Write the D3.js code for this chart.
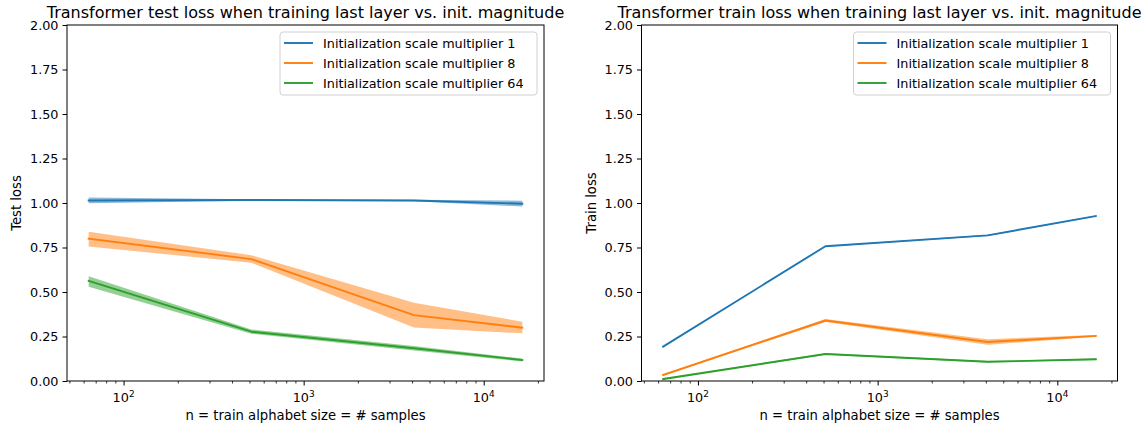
<!DOCTYPE html>
<html>
<head>
<meta charset="utf-8">
<script src="https://cdn.jsdelivr.net/npm/d3@7"></script>
<style>
body { margin: 0; background: #fff; }
svg { display: block; font-family: "DejaVu Sans", sans-serif; }
</style>
</head>
<body>
<svg id="chart" width="1144" height="425"></svg>
<script>
// ---------- data ----------
const xValues = [64, 512, 4096, 16384];
const seriesNames = [
  "Initialization scale multiplier 1",
  "Initialization scale multiplier 8",
  "Initialization scale multiplier 64"
];
const seriesColors = ["#1f77b4", "#ff7f0e", "#2ca02c"];
const yTicks = [0, 0.25, 0.5, 0.75, 1.0, 1.25, 1.5, 1.75, 2.0];

// Test loss (mean, lower, upper)
const testMean1 = [1.014, 1.017, 1.014, 0.996];
const testLow1  = [0.999, 1.013, 1.010, 0.980];
const testHigh1 = [1.031, 1.021, 1.018, 1.013];
const testMean8 = [0.800, 0.685, 0.370, 0.300];
const testLow8  = [0.755, 0.665, 0.300, 0.268];
const testHigh8 = [0.839, 0.706, 0.440, 0.333];
const testMean64 = [0.562, 0.277, 0.184, 0.118];
const testLow64  = [0.530, 0.265, 0.172, 0.110];
const testHigh64 = [0.588, 0.290, 0.196, 0.126];

// Train loss (mean, lower, upper)
const trainMean1 = [0.193, 0.757, 0.818, 0.927];
const trainLow1  = [0.190, 0.754, 0.815, 0.924];
const trainHigh1 = [0.196, 0.760, 0.821, 0.930];
const trainMean8 = [0.034, 0.340, 0.219, 0.253];
const trainLow8  = [0.030, 0.331, 0.203, 0.248];
const trainHigh8 = [0.038, 0.348, 0.235, 0.258];
const trainMean64 = [0.011, 0.152, 0.108, 0.122];
const trainLow64  = [0.008, 0.148, 0.104, 0.118];
const trainHigh64 = [0.014, 0.156, 0.112, 0.126];

// ---------- drawing ----------
const svg = d3.select("#chart");
const FS = 12.8;      // tick + legend font
const LFS = 13.2;     // axis label font
const TFS = 16;       // title font

function drawPanel(opts) {
  const { left, right, top, bottom, title, ylabel, means, lows, highs } = opts;
  const g = svg.append("g");

  // log x-domain with matplotlib-like 5% margins
  const lmin = Math.log10(d3.min(xValues)), lmax = Math.log10(d3.max(xValues));
  const pad = (lmax - lmin) * 0.05;
  const x = d3.scaleLog().domain([10 ** (lmin - pad), 10 ** (lmax + pad)]).range([left, right]);
  const y = d3.scaleLinear().domain([0, 2]).range([bottom, top]);

  // bands
  means.forEach((m, i) => {
    const area = d3.area()
      .x((d, j) => x(xValues[j]))
      .y0((d, j) => y(lows[i][j]))
      .y1((d, j) => y(highs[i][j]));
    g.append("path").attr("d", area(m))
      .attr("fill", seriesColors[i]).attr("fill-opacity", 0.5).attr("stroke", "none");
  });
  // lines
  means.forEach((m, i) => {
    const line = d3.line().x((d, j) => x(xValues[j])).y(d => y(d));
    g.append("path").attr("d", line(m))
      .attr("fill", "none").attr("stroke", seriesColors[i])
      .attr("stroke-width", 1.9).attr("stroke-linejoin", "round").attr("stroke-linecap", "square");
  });

  // frame
  g.append("rect").attr("x", left).attr("y", top)
    .attr("width", right - left).attr("height", bottom - top)
    .attr("fill", "none").attr("stroke", "#000").attr("stroke-width", 1);

  // y axis
  const yAxis = d3.axisLeft(y).tickValues(yTicks).tickFormat(d3.format(".2f"))
    .tickSize(4.5).tickPadding(4);
  const ya = g.append("g").attr("transform", `translate(${left},0)`).call(yAxis);
  ya.select(".domain").remove();
  ya.selectAll("text").attr("font-size", FS).attr("fill", "#000").attr("font-family", "DejaVu Sans");
  ya.selectAll("line").attr("stroke", "#000");

  // x axis major / minor ticks
  const [d0, d1] = x.domain();
  const majors = [];
  const minors = [];
  for (let e = Math.floor(Math.log10(d0)); e <= Math.ceil(Math.log10(d1)); e++) {
    for (let k = 1; k <= 9; k++) {
      const v = k * 10 ** e;
      if (v >= d0 && v <= d1) (k === 1 ? majors : minors).push(v);
    }
  }
  const xAxis = d3.axisBottom(x).tickValues(majors).tickFormat("").tickSize(4.5);
  const xa = g.append("g").attr("transform", `translate(0,${bottom})`).call(xAxis);
  xa.select(".domain").remove();
  xa.selectAll("line").attr("stroke", "#000");
  const xm = d3.axisBottom(x).tickValues(minors).tickFormat("").tickSize(2.5);
  const xma = g.append("g").attr("transform", `translate(0,${bottom})`).call(xm);
  xma.select(".domain").remove();
  xma.selectAll("line").attr("stroke", "#000").attr("stroke-width", 0.8);

  // x tick labels with superscripts
  majors.forEach(v => {
    const t = g.append("text").attr("x", x(v)).attr("y", bottom + 21)
      .attr("text-anchor", "middle").attr("font-size", FS);
    t.append("tspan").text("10");
    t.append("tspan").attr("dy", -5).attr("font-size", FS * 0.7).text(Math.round(Math.log10(v)));
  });

  // labels
  g.append("text").attr("x", (left + right) / 2).attr("y", 420)
    .attr("text-anchor", "middle").attr("font-size", LFS).text("n = train alphabet size = # samples");
  g.append("text").attr("transform", `translate(${left - 46},${(top + bottom) / 2}) rotate(-90)`)
    .attr("text-anchor", "middle").attr("font-size", LFS).text(ylabel);
  g.append("text").attr("x", (left + right) / 2).attr("y", top - 7)
    .attr("text-anchor", "middle").attr("font-size", TFS).text(title);

  // legend
  const lw = 257, lh = 63;
  const lx = right - 7 - lw, ly = top + 7;
  const lg = g.append("g").attr("transform", `translate(${lx},${ly})`);
  lg.append("rect").attr("width", lw).attr("height", lh).attr("rx", 3)
    .attr("fill", "#fff").attr("fill-opacity", 0.8).attr("stroke", "#d0d0d0").attr("stroke-width", 1);
  seriesNames.forEach((name, i) => {
    const yy = 11 + i * 20;
    lg.append("line").attr("x1", 4).attr("x2", 33).attr("y1", yy).attr("y2", yy)
      .attr("stroke", seriesColors[i]).attr("stroke-width", 1.9);
    lg.append("text").attr("x", 43).attr("y", yy).attr("dy", "0.36em")
      .attr("font-size", FS).text(name);
  });
}

drawPanel({
  left: 67, right: 544, top: 25, bottom: 381,
  title: "Transformer test loss when training last layer vs. init. magnitude",
  ylabel: "Test loss",
  means: [testMean1, testMean8, testMean64],
  lows: [testLow1, testLow8, testLow64],
  highs: [testHigh1, testHigh8, testHigh64]
});
drawPanel({
  left: 641.5, right: 1117.5, top: 25, bottom: 381,
  title: "Transformer train loss when training last layer vs. init. magnitude",
  ylabel: "Train loss",
  means: [trainMean1, trainMean8, trainMean64],
  lows: [trainLow1, trainLow8, trainLow64],
  highs: [trainHigh1, trainHigh8, trainHigh64]
});
</script>
</body>
</html>
